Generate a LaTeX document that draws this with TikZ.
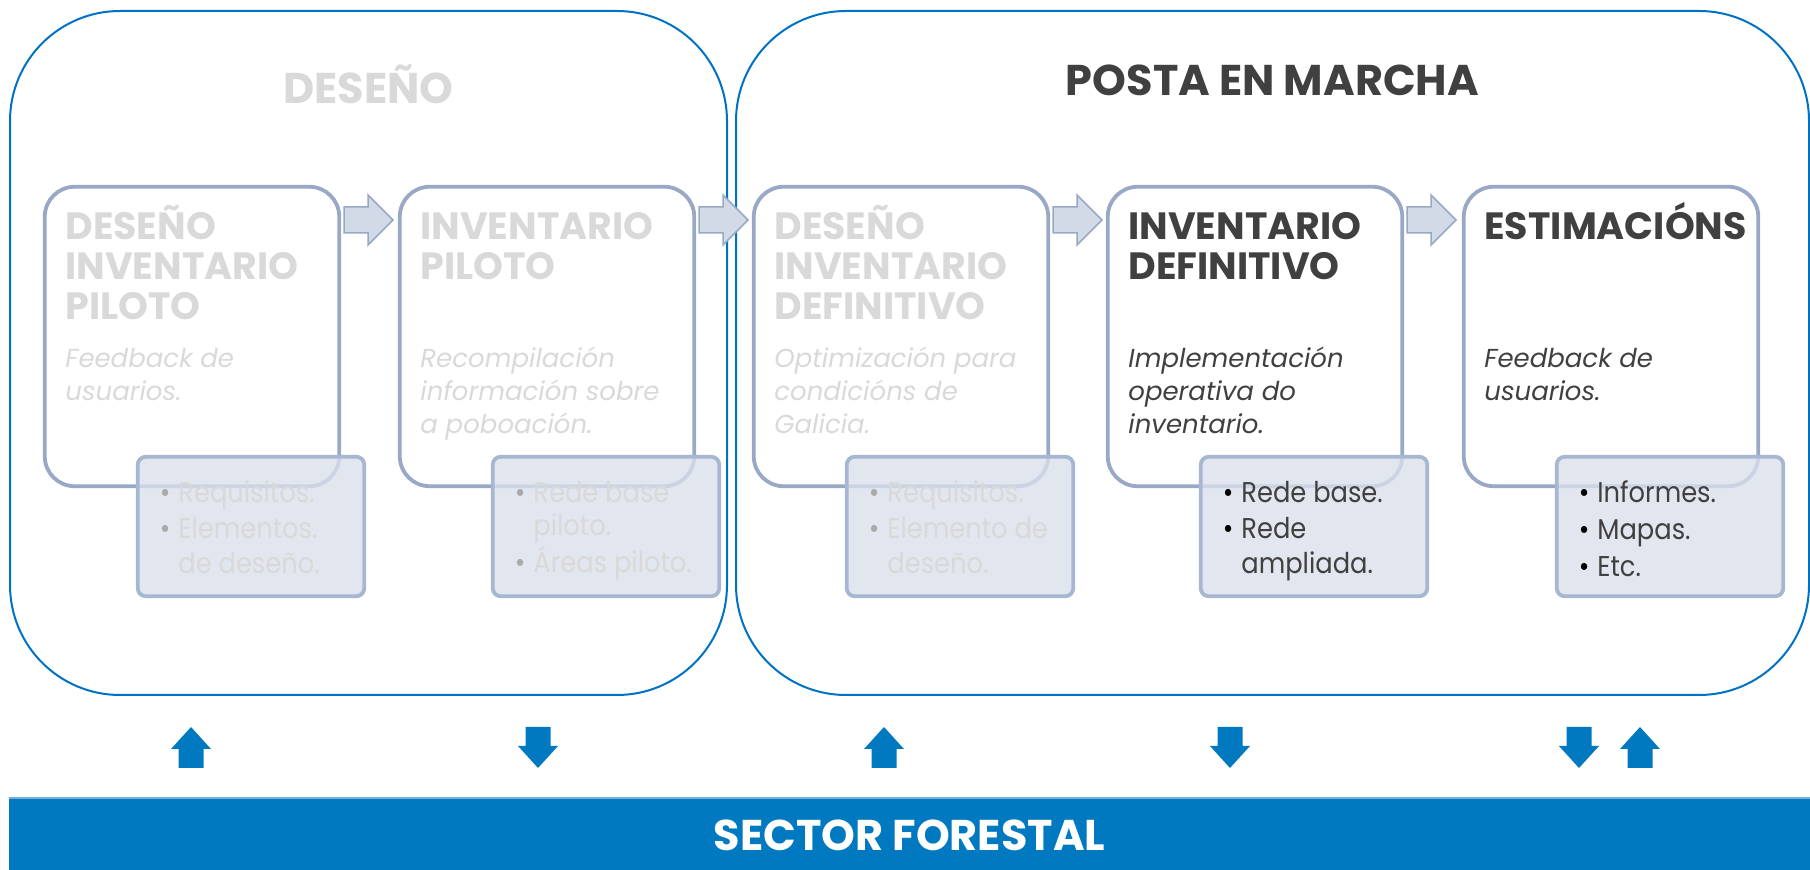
\documentclass[tikz,border=0pt]{standalone}
\usepackage{fontspec}
\setmainfont{Poppins}
\newfontfamily\subfont[FakeStretch=0.9]{Poppins}
\definecolor{bigblue}{RGB}{0,114,198}
\definecolor{barblue}{RGB}{0,121,193}
\definecolor{barline}{RGB}{110,175,220}
\definecolor{faded}{RGB}{217,217,217}
\definecolor{fadedbul}{RGB}{170,170,170}
\definecolor{darktxt}{RGB}{64,64,64}
\definecolor{stepline}{RGB}{152,168,197}
\definecolor{subfill}{RGB}{218,224,236}
\definecolor{subline}{RGB}{167,183,210}
\definecolor{chevfill}{RGB}{210,218,232}
\tikzset{
  bigbox/.style={draw=bigblue, line width=1pt, fill=white, rounded corners=55pt,
    minimum height=342pt, inner sep=0pt},
  stepbox/.style={draw=stepline, line width=1.9pt, fill=white, rounded corners=15pt,
    minimum width=147.25pt, minimum height=149.75pt, inner sep=0pt},
  subbox/.style={draw=subline, line width=1.9pt, fill=subfill, fill opacity=0.8,
    rounded corners=4pt, minimum width=113.25pt, minimum height=69.75pt, inner sep=0pt},
  chev/.style={draw=stepline, line width=0.75pt, fill=chevfill, line join=miter},
  blockarrow/.style={fill=barblue, draw=none},
  txt/.style={anchor=base west, inner sep=0pt},
  bigtitle/.style={anchor=base, inner sep=0pt, font=\fontsize{21.5pt}{24pt}\selectfont\bfseries},
  steptitle/.style={txt, font=\fontsize{19pt}{20pt}\selectfont\bfseries},
  desc/.style={txt, font=\fontsize{13pt}{15pt}\selectfont\itshape},
  subtxt/.style={txt, font=\subfont\fontsize{14.3pt}{16pt}\selectfont},
}
\newcommand{\bul}[1]{\llap{\textcolor{#1}{\textbullet}\hspace{4pt}}}
\begin{document}
\begin{tikzpicture}[x=0.5pt, y=-0.5pt]
\useasboundingbox (0,0) rectangle (1810,870);
% big boxes
\node[bigbox, minimum width=358.5pt] (deseno) at (368.5,353) {};
\node[bigbox, minimum width=536.5pt] (posta) at (1272.5,353) {};
\node[bigtitle, text=faded] (tdeseno) at (368.5,104) {DESEÑO};
\node[bigtitle, text=darktxt] (tposta) at (1272.5,96) {POSTA EN MARCHA};
% step boxes
\foreach \i/\L in {1/43, 2/398, 3/752, 4/1106, 5/1462} {
  \node[stepbox] (b\i) at (\L+149, 336.5) {};
}
% chevrons
\foreach \x in {344, 699, 1053, 1407} {
  \draw[chev] (\x,207) -- (\x+24,207) -- (\x+24,195) -- (\x+49,220) -- (\x+24,245)
    -- (\x+24,233) -- (\x,233) -- cycle;
}
% sub boxes
\foreach \i/\L in {1/43, 2/398, 3/752, 4/1106, 5/1462} {
  \node[subbox] (s\i) at (\L+208, 526.5) {};
}
% box 1
\node[steptitle, text=faded] (t1a) at (65,240) {DESEÑO};
\node[steptitle, text=faded] (t1b) at (65,280) {INVENTARIO};
\node[steptitle, text=faded] (t1c) at (65,320) {PILOTO};
\node[desc, text=faded] (d1a) at (65,368) {Feedback de};
\node[desc, text=faded] (d1b) at (65,401) {usuarios.};
\node[subtxt, text=faded] (u1a) at (178,503) {\bul{fadedbul}Requisitos.};
\node[subtxt, text=faded] (u1b) at (178,539) {\bul{fadedbul}Elementos.};
\node[subtxt, text=faded] (u1c) at (178,574) {de deseño.};
% box 2
\node[steptitle, text=faded] (t2a) at (420,240) {INVENTARIO};
\node[steptitle, text=faded] (t2b) at (420,280) {PILOTO};
\node[desc, text=faded] (d2a) at (420,368) {Recompilación};
\node[desc, text=faded] (d2b) at (420,401) {información sobre};
\node[desc, text=faded] (d2c) at (420,434) {a poboación.};
\node[subtxt, text=faded] (u2a) at (533,503) {\bul{fadedbul}Rede base};
\node[subtxt, text=faded] (u2b) at (533,536) {piloto.};
\node[subtxt, text=faded] (u2c) at (533,573) {\bul{fadedbul}Áreas piloto.};
% box 3
\node[steptitle, text=faded] (t3a) at (774,240) {DESEÑO};
\node[steptitle, text=faded] (t3b) at (774,280) {INVENTARIO};
\node[steptitle, text=faded] (t3c) at (774,320) {DEFINITIVO};
\node[desc, text=faded] (d3a) at (774,368) {Optimización para};
\node[desc, text=faded] (d3b) at (774,401) {condicións de};
\node[desc, text=faded] (d3c) at (774,434) {Galicia.};
\node[subtxt, text=faded] (u3a) at (887,503) {\bul{fadedbul}Requisitos.};
\node[subtxt, text=faded] (u3b) at (887,539) {\bul{fadedbul}Elemento de};
\node[subtxt, text=faded] (u3c) at (887,574) {deseño.};
% box 4
\node[steptitle, text=darktxt] (t4a) at (1128,240) {INVENTARIO};
\node[steptitle, text=darktxt] (t4b) at (1128,280) {DEFINITIVO};
\node[desc, text=darktxt] (d4a) at (1128,368) {Implementación};
\node[desc, text=darktxt] (d4b) at (1128,401) {operativa do};
\node[desc, text=darktxt] (d4c) at (1128,434) {inventario.};
\node[subtxt, text=darktxt] (u4a) at (1241,503) {\bul{black}Rede base.};
\node[subtxt, text=darktxt] (u4b) at (1241,539) {\bul{black}Rede};
\node[subtxt, text=darktxt] (u4c) at (1241,574) {ampliada.};
% box 5
\node[steptitle, text=darktxt] (t5a) at (1484,240) {ESTIMACIÓNS};
\node[desc, text=darktxt] (d5a) at (1484,368) {Feedback de};
\node[desc, text=darktxt] (d5b) at (1484,401) {usuarios.};
\node[subtxt, text=darktxt] (u5a) at (1597,503) {\bul{black}Informes.};
\node[subtxt, text=darktxt] (u5b) at (1597,540) {\bul{black}Mapas.};
\node[subtxt, text=darktxt] (u5c) at (1597,577) {\bul{black}Etc.};
% bottom bar
\node[fill=barblue, draw=none, inner sep=0pt, minimum width=900.5pt, minimum height=36pt, anchor=north west] (bar) at (9,798) {};
\draw[barline, line width=0.75pt] (bar.north west) -- (bar.north east);
\node[bigtitle, text=white] (tbar) at (909.5,850) {SECTOR FORESTAL};
% block arrows
\foreach \c in {191, 884, 1640} {
  \fill[blockarrow] (\c,727) -- (\c+20,749) -- (\c+12.5,749) -- (\c+12.5,768)
    -- (\c-12.5,768) -- (\c-12.5,749) -- (\c-20,749) -- cycle;
}
\foreach \c in {538, 1230, 1579} {
  \fill[blockarrow] (\c,768) -- (\c+20,746) -- (\c+12.5,746) -- (\c+12.5,727)
    -- (\c-12.5,727) -- (\c-12.5,746) -- (\c-20,746) -- cycle;
}
\end{tikzpicture}
\end{document}
